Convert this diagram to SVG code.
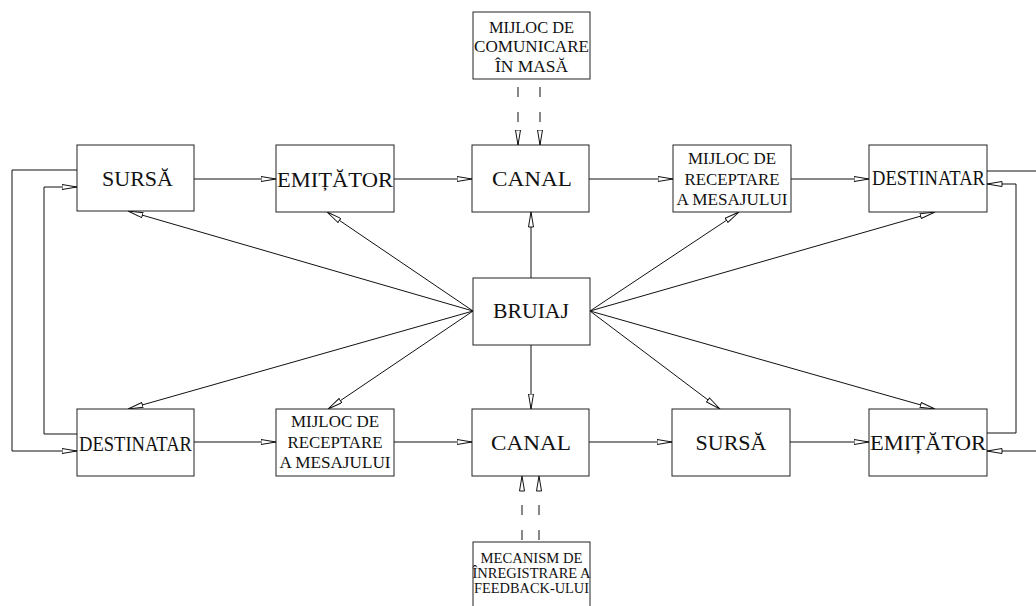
<svg xmlns="http://www.w3.org/2000/svg" width="1036" height="606" viewBox="0 0 1036 606">
<style>
.box{fill:#fff;stroke:#222;stroke-width:1}
.ln{fill:none;stroke:#111;stroke-width:1}
.ar{fill:none;stroke:#111;stroke-width:1;marker-end:url(#oa)}
.da{fill:none;stroke:#111;stroke-width:1;stroke-dasharray:10,15;marker-end:url(#oa)}
text{font-family:"Liberation Serif","Times New Roman",serif;fill:#111;text-anchor:middle}
.l{font-size:21px}
.m{font-size:16px}
.s{font-size:15px}
</style>
<defs>
<marker id="oa" viewBox="0 0 16 6" refX="15.5" refY="3" markerWidth="16" markerHeight="6" orient="auto" markerUnits="userSpaceOnUse">
<path d="M0.5,0.5 L15.5,3 L0.5,5.5 Z" fill="#fff" stroke="#111" stroke-width="1"/>
</marker>
</defs>
<rect width="1036" height="606" fill="#fff"/>

<g id="connectors">
<!-- top row -->
<line class="ar" x1="194" y1="179" x2="276" y2="179"/>
<line class="ar" x1="394" y1="179" x2="472" y2="179"/>
<line class="ar" x1="589" y1="179" x2="673" y2="179"/>
<line class="ar" x1="791" y1="179" x2="869" y2="179"/>
<!-- bottom row -->
<line class="ar" x1="194" y1="442" x2="276" y2="442"/>
<line class="ar" x1="394" y1="442" x2="472" y2="442"/>
<line class="ar" x1="589" y1="442" x2="672" y2="442"/>
<line class="ar" x1="790" y1="442" x2="869" y2="442"/>
<!-- left loops -->
<polyline class="ar" points="77,170 12,170 12,451 77,451"/>
<polyline class="ar" points="77,434 44,434 44,187 77,187"/>
<!-- right loops -->
<polyline class="ar" points="987,433 1016,433 1016,184 987,184"/>
<polyline class="ar" points="987,171 1040,171 1040,451 987,451"/>
<!-- bruiaj rays -->
<line class="ar" x1="473" y1="311" x2="128" y2="211"/>
<line class="ar" x1="473" y1="311" x2="327" y2="212"/>
<line class="ar" x1="531" y1="278" x2="531" y2="212"/>
<line class="ar" x1="590" y1="311" x2="739" y2="212"/>
<line class="ar" x1="590" y1="311" x2="935" y2="212"/>
<line class="ar" x1="473" y1="311" x2="128" y2="409"/>
<line class="ar" x1="473" y1="311" x2="328" y2="409"/>
<line class="ar" x1="531" y1="345" x2="531" y2="409"/>
<line class="ar" x1="590" y1="311" x2="720" y2="409"/>
<line class="ar" x1="590" y1="311" x2="935" y2="409"/>
<!-- dashed -->
<line class="da" x1="518" y1="87" x2="518" y2="145"/>
<line class="da" x1="540" y1="87" x2="540" y2="145"/>
<line class="da" x1="522" y1="540" x2="522" y2="476"/>
<line class="da" x1="539" y1="540" x2="539" y2="476"/>
</g>

<g id="n-mijloc-comunicare">
<rect class="box" x="473" y="12" width="117" height="67"/>
<text class="m" x="531.5" y="33" textLength="85" lengthAdjust="spacingAndGlyphs">MIJLOC DE</text>
<text class="m" x="531.5" y="52" textLength="115" lengthAdjust="spacingAndGlyphs">COMUNICARE</text>
<text class="m" x="531.5" y="72" textLength="73" lengthAdjust="spacingAndGlyphs">ÎN MASĂ</text>
</g>

<g id="n-sursa-top">
<rect class="box" x="77" y="145" width="117" height="66"/>
<text class="l" x="137.5" y="186" textLength="71" lengthAdjust="spacingAndGlyphs">SURSĂ</text>
</g>
<g id="n-emitator-top">
<rect class="box" x="276" y="145" width="118" height="67"/>
<text class="l" x="335" y="187" textLength="116" lengthAdjust="spacingAndGlyphs">EMIȚĂTOR</text>
</g>
<g id="n-canal-top">
<rect class="box" x="472" y="145" width="117" height="67"/>
<text class="l" x="532" y="186" textLength="80" lengthAdjust="spacingAndGlyphs">CANAL</text>
</g>
<g id="n-mijloc-top">
<rect class="box" x="673" y="145" width="118" height="67"/>
<text class="m" x="732" y="164" textLength="88" lengthAdjust="spacingAndGlyphs">MIJLOC DE</text>
<text class="m" x="732" y="185" textLength="95" lengthAdjust="spacingAndGlyphs">RECEPTARE</text>
<text class="m" x="732" y="205" textLength="111" lengthAdjust="spacingAndGlyphs">A MESAJULUI</text>
</g>
<g id="n-destinatar-top">
<rect class="box" x="869" y="145" width="118" height="67"/>
<text class="l" x="928.5" y="185" textLength="113" lengthAdjust="spacingAndGlyphs">DESTINATAR</text>
</g>

<g id="n-bruiaj">
<rect class="box" x="473" y="278" width="117" height="67"/>
<text class="l" x="531" y="318" textLength="76" lengthAdjust="spacingAndGlyphs">BRUIAJ</text>
</g>

<g id="n-destinatar-bottom">
<rect class="box" x="77" y="409" width="117" height="67"/>
<text class="l" x="135.5" y="451" textLength="113" lengthAdjust="spacingAndGlyphs">DESTINATAR</text>
</g>
<g id="n-mijloc-bottom">
<rect class="box" x="276" y="409" width="118" height="67"/>
<text class="m" x="335" y="427" textLength="88" lengthAdjust="spacingAndGlyphs">MIJLOC DE</text>
<text class="m" x="335" y="448" textLength="95" lengthAdjust="spacingAndGlyphs">RECEPTARE</text>
<text class="m" x="335" y="468" textLength="111" lengthAdjust="spacingAndGlyphs">A MESAJULUI</text>
</g>
<g id="n-canal-bottom">
<rect class="box" x="472" y="409" width="117" height="67"/>
<text class="l" x="531" y="450" textLength="80" lengthAdjust="spacingAndGlyphs">CANAL</text>
</g>
<g id="n-sursa-bottom">
<rect class="box" x="672" y="409" width="118" height="67"/>
<text class="l" x="731" y="450" textLength="71" lengthAdjust="spacingAndGlyphs">SURSĂ</text>
</g>
<g id="n-emitator-bottom">
<rect class="box" x="869" y="409" width="118" height="67"/>
<text class="l" x="928" y="450" textLength="116" lengthAdjust="spacingAndGlyphs">EMIȚĂTOR</text>
</g>

<g id="n-mecanism">
<rect class="box" x="473" y="542" width="117" height="80"/>
<text class="s" x="531.5" y="563" textLength="102" lengthAdjust="spacingAndGlyphs">MECANISM DE</text>
<text class="s" x="531.5" y="578" textLength="118" lengthAdjust="spacingAndGlyphs">ÎNREGISTRARE A</text>
<text class="s" x="531.5" y="593" textLength="115" lengthAdjust="spacingAndGlyphs">FEEDBACK-ULUI</text>
</g>
</svg>
